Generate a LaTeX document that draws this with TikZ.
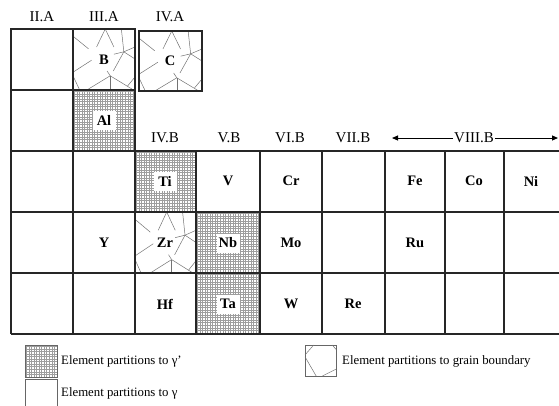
\documentclass[tikz,border=0pt]{standalone}
\usepackage{fontspec}
\setmainfont{Liberation Serif}
\usetikzlibrary{arrows.meta}
\newcommand\hatchcell[4]{%
  \begin{scope}
    \clip (#1,#2) rectangle (#3,#4);
    \foreach \i in {0,...,27}{%
      \draw[hatch] ({#1+1.2+\i*2.55},#2) -- ++(0,70);
      \draw[hatch] (#1,{#2+1.2+\i*2.55}) -- ++(70,0);
    }
  \end{scope}}
\newcommand\grains[4]{% x1,y1,w,h
  \begin{scope}[shift={(#1,#2)},x=#3pt,y=-#4pt]
    \draw[grain] (0,0.12) -- (0.25,0.33);
    \draw[grain] (0,0.72) -- (0.3,0.52);
    \draw[grain] (0,0.78) -- (0.1,1);
    \draw[grain] (0.52,0) -- (0.38,0.3);
    \draw[grain] (0.52,0) -- (0.66,0.3);
    \draw[grain] (0.82,0.38) -- (1,0.3);
    \draw[grain] (0.82,0.38) -- (1,0.5);
    \draw[grain] (0.82,0.38) -- (0.66,0.42);
    \draw[grain] (0.82,0.38) -- (0.78,0.0);
    \draw[grain] (0.82,0.38) -- (0.65,0.7);
    \draw[grain] (0.6,0.78) -- (0.25,1);
    \draw[grain] (0.6,0.78) -- (0.95,1);
    \draw[grain] (0.6,0.78) -- (0.6,1);
    \draw[grain] (0.6,0.78) -- (0.55,0.7);
    \draw[grain] (1,0.8) -- (0.88,0.95);
  \end{scope}}
\begin{document}
\begin{tikzpicture}[x=1pt,y=-1pt,
  cellline/.style={line width=1.2pt, draw=black!85},
  hatch/.style={draw=black!38, line width=0.35pt},
  grain/.style={draw=black!55, line width=0.5pt},
  elem/.style={font=\bfseries\fontsize{14.5}{14.5}\selectfont, inner sep=0pt},
  elembg/.style={elem, fill=white, minimum width=23pt, minimum height=19pt},
  grp/.style={font=\fontsize{15}{15}\selectfont, inner sep=1pt},
  leg/.style={font=\fontsize{12.8}{13}\selectfont, anchor=west, inner sep=0pt},
  legbox/.style={draw=black!60, line width=0.8pt},
  arr/.style={line width=1pt, -{Triangle[length=6pt,width=5pt]}}
]
\useasboundingbox (0,0) rectangle (559,405);
% patterned cells
\hatchcell{73}{90}{135}{151}
\hatchcell{135}{151}{196}{212}
\hatchcell{196}{212}{260}{273}
\hatchcell{196}{273}{260}{334}
\grains{73}{29}{62}{60}
\grains{139}{31}{63}{60}
\grains{135}{212}{61}{61}
% grid lines
\draw[cellline] (11,29) rectangle (135,151);
\draw[cellline] (73,29) -- (73,151);
\draw[cellline] (11,90) -- (135,90);
\draw[cellline] (139,31) rectangle (202,91);
\foreach \yy in {151,212,273,334}{\draw[cellline] (11,\yy) -- (559,\yy);}
\foreach \xx in {11,73,135,196,260,322,385,445,504}{\draw[cellline] (\xx,151) -- (\xx,334);}
% element labels
\node[elem, fill=white, inner sep=2pt] (B) at (104,60) {B};
\node[elem, fill=white, inner sep=2pt] (C) at (170,61) {C};
\node[elembg] (Al) at (104,120) {Al};
\node[elembg] (Ti) at (165,181) {Ti};
\node[elem] (V) at (228,181) {V};
\node[elem] (Cr) at (291,181) {Cr};
\node[elem] (Fe) at (415,181) {Fe};
\node[elem] (Co) at (474,181) {Co};
\node[elem] (Ni) at (531,181) {Ni};
\node[elem] (Y) at (104,243) {Y};
\node[elem, fill=white, inner sep=2pt] (Zr) at (165,243) {Zr};
\node[elembg] (Nb) at (228,243) {Nb};
\node[elem] (Mo) at (291,243) {Mo};
\node[elem] (Ru) at (415,243) {Ru};
\node[elem] (Hf) at (165,304) {Hf};
\node[elembg] (Ta) at (228,304) {Ta};
\node[elem] (W) at (291,304) {W};
\node[elem] (Re) at (353,304) {Re};
% group labels
\node[grp] (g2a) at (42,17) {II.A};
\node[grp] (g3a) at (104,17) {III.A};
\node[grp] (g4a) at (170,17) {IV.A};
\node[grp] (g4b) at (165,138) {IV.B};
\node[grp] (g5b) at (229,138) {V.B};
\node[grp] (g6b) at (290,138) {VI.B};
\node[grp] (g7b) at (353,138) {VII.B};
\node[grp] (g8b) at (474,138) {VIII.B};
\coordinate (aL) at (392,138);
\coordinate (aR) at (558,138);
\draw[arr] (g8b.west) -- (aL);
\draw[arr] (g8b.east) -- (aR);
% legend
\hatchcell{25}{345}{57}{377}
\draw[legbox] (25,345) rectangle (57,377);
\node[leg] (l1) at (61,361) {Element partitions to γ’};
\draw[legbox] (25,407) -- (25,379) -- (57,379) -- (57,407);
\node[leg] (l2) at (61,393) {Element partitions to γ};
\draw[legbox] (305,345) rectangle (336,376);
\begin{scope}[shift={(305,345)},x=31pt,y=-31pt]
  \draw[grain] (0,0.32) -- (0.28,0);
  \draw[grain] (0,0.38) -- (0.36,1);
  \draw[grain] (0.56,1) -- (1,0.78);
  \draw[grain] (0.88,0) -- (1,0.14);
\end{scope}
\node[leg] (l3) at (342,361) {Element partitions to grain boundary};
\end{tikzpicture}
\end{document}
